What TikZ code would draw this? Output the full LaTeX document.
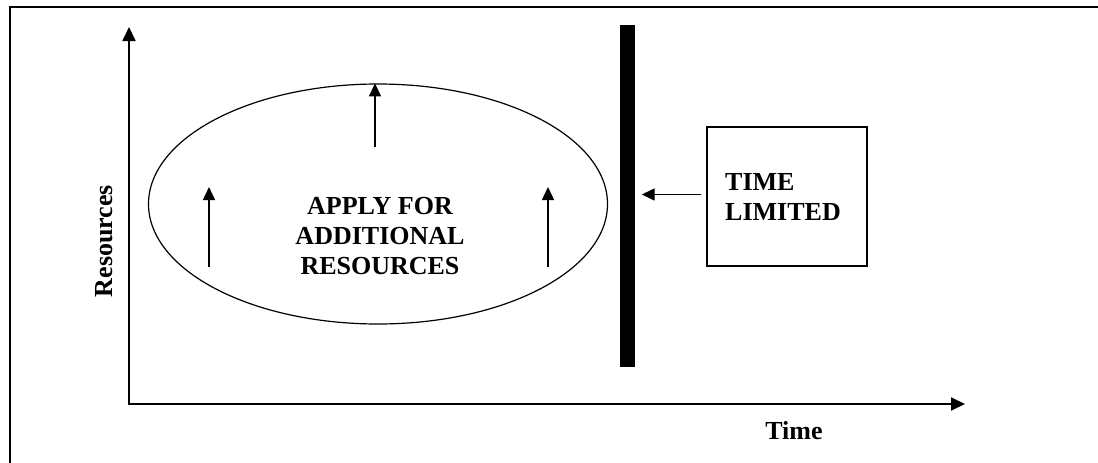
\documentclass[tikz,border=0pt]{standalone}
\usepackage{fontspec}
\setmainfont{Liberation Serif}
\usetikzlibrary{shapes.geometric,arrows.meta}
\begin{document}
\begin{tikzpicture}[x=1pt,y=-1pt,
  label/.style={font=\fontsize{26}{30}\selectfont\bfseries, inner sep=0pt},
  axis/.style={line width=1.8pt, {Triangle[length=14pt,width=13pt]}-{Triangle[length=14pt,width=13pt]}},
  push/.style={line width=1.4pt, -{Triangle[length=13pt,width=12pt]}}]
\useasboundingbox (0,0) rectangle (1098,463);
\draw[line width=1.8pt] (10,463) -- (10,7) -- (1098,7);

\coordinate (top) at (129,27);
\coordinate (origin) at (129,404);
\coordinate (right) at (965,404);
\draw[axis] (top) -- (origin) -- (right);
\node[label, rotate=90] (res) at (104,241) {Resources};
\node[label, anchor=base] (time) at (794,439) {Time};

\node[draw, ellipse, line width=1.2pt, minimum width=459, minimum height=240] (apply) at (378,204) {};
\node[label, align=center] (text) at (380,236) {APPLY FOR\\ADDITIONAL\\RESOURCES};

\coordinate (up1) at (375,147);
\coordinate (up2) at (209,267);
\coordinate (up2e) at (209,187);
\coordinate (up3) at (548,267);
\coordinate (up3e) at (548,187);
\draw[push] (up1) -- (up1 |- apply.north);
\draw[push] (up2) -- (up2e);
\draw[push] (up3) -- (up3e);

\node[fill, inner sep=0pt, minimum width=15, minimum height=342] (wall) at (627,196) {};
\node[draw, line width=1.4pt, minimum width=160, minimum height=139] (limit) at (787,196.5) {};
\node[label, align=left, anchor=west] (limtext) at (725,197) {TIME\\LIMITED};

\coordinate (from) at ([yshift=2pt]limit.west);
\draw[push, shorten <=5pt, shorten >=7pt] (from) -- (wall.east |- from);
\end{tikzpicture}
\end{document}
